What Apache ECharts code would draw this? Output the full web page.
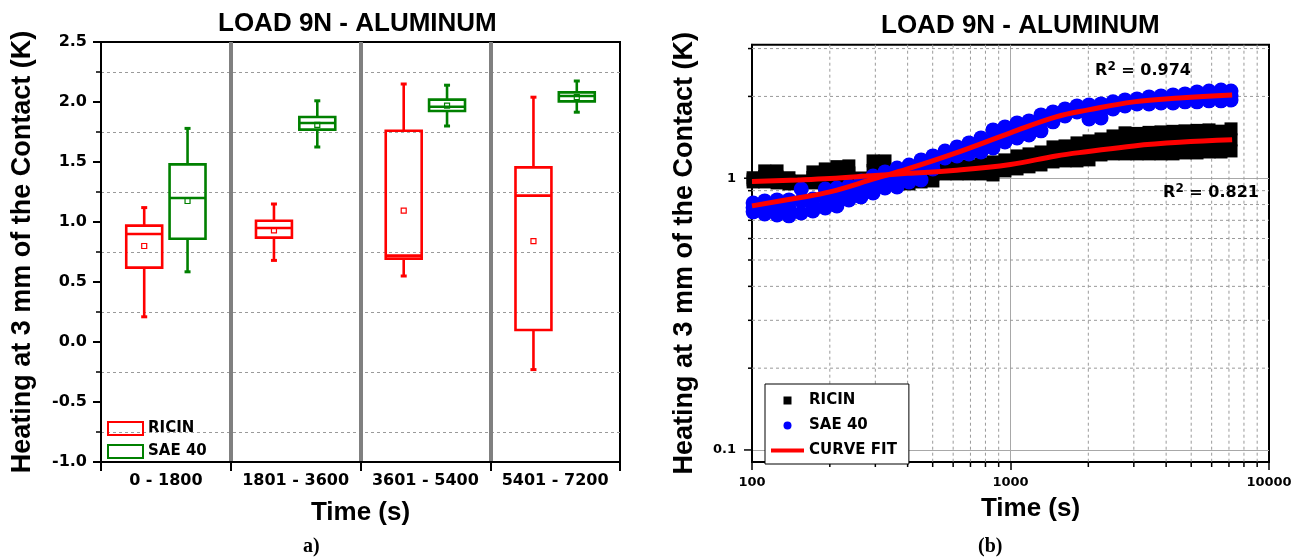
<!DOCTYPE html>
<html><head><meta charset="utf-8">
<script src="https://cdn.jsdelivr.net/npm/echarts@6/dist/echarts.min.js"></script>
<style>html,body{margin:0;padding:0;background:#fff}#c{width:1305px;height:558px}</style>
</head><body><div id="c"></div>
<script>
// ---------- panel a) : box plots ----------
const categories = ['0 - 1800', '1801 - 3600', '3601 - 5400', '5401 - 7200'];
// each row: [min, Q1, median, Q3, max, mean]
const ricinBox = [
  [0.21, 0.62, 0.90, 0.97, 1.12, 0.80],
  [0.68, 0.87, 0.95, 1.01, 1.15, 0.93],
  [0.55, 0.695, 0.72, 1.76, 2.15, 1.095],
  [-0.23, 0.10, 1.22, 1.455, 2.04, 0.84]
];
const saeBox = [
  [0.585, 0.86, 1.20, 1.48, 1.78, 1.175],
  [1.625, 1.77, 1.825, 1.875, 2.01, 1.81],
  [1.80, 1.925, 1.96, 2.02, 2.14, 1.97],
  [1.915, 2.005, 2.05, 2.08, 2.175, 2.04]
];

// ---------- panel (b) : log-log scatter ----------
const sampleTimes = [101,112,125,139,155,172,192,213,237,264,294,327,364,405,451,501,558,621,691,769,856,952,1060,1179,1312,1460,1625,1808,2012,2239,2492,2773,3086,3434,3821,4252,4732,5267,5861,6521,7130];
const ricinUpper = [1.004,1.064,1.064,1.004,0.977,1.055,1.082,1.103,1.110,1.002,1.158,1.158,1.055,1.082,1.082,1.091,1.101,1.110,1.110,1.129,1.148,1.168,1.208,1.229,1.249,1.304,1.315,1.349,1.372,1.395,1.431,1.469,1.462,1.475,1.481,1.488,1.494,1.500,1.506,1.490,1.519];
const ricinMid   = [0.987,1.015,1.011,0.979,0.965,1.007,1.024,1.038,1.046,0.994,1.068,1.068,1.015,1.015,1.024,1.033,1.068,1.073,1.073,1.082,1.086,1.115,1.143,1.163,1.183,1.223,1.234,1.249,1.265,1.304,1.326,1.343,1.343,1.343,1.349,1.349,1.360,1.360,1.372,1.372,1.384];
const ricinLower = [0.969,0.969,0.961,0.953,0.953,0.961,0.969,0.977,0.986,0.986,0.986,0.986,0.977,0.953,0.969,0.977,1.037,1.037,1.037,1.037,1.028,1.064,1.082,1.101,1.119,1.148,1.158,1.158,1.168,1.218,1.229,1.229,1.229,1.229,1.229,1.229,1.239,1.239,1.249,1.249,1.260];
const saeUpper = [0.811,0.825,0.832,0.832,0.913,0.839,0.913,0.921,0.937,0.977,1.019,1.055,1.091,1.119,1.168,1.208,1.260,1.304,1.349,1.407,1.506,1.545,1.598,1.625,1.710,1.754,1.799,1.846,1.861,1.877,1.910,1.942,1.958,1.992,2.009,2.026,2.043,2.078,2.095,2.113,2.095];
const saeMid   = [0.781,0.781,0.781,0.777,0.825,0.797,0.843,0.854,0.883,0.913,0.949,0.986,1.007,1.042,1.073,1.143,1.223,1.254,1.287,1.326,1.395,1.449,1.500,1.532,1.598,1.682,1.747,1.799,1.754,1.769,1.853,1.893,1.918,1.934,1.950,1.958,1.975,1.992,2.009,2.017,2.017];
const saeLower = [0.752,0.739,0.733,0.727,0.745,0.758,0.777,0.791,0.832,0.854,0.883,0.921,0.929,0.969,0.986,1.082,1.188,1.208,1.229,1.249,1.293,1.360,1.407,1.443,1.494,1.612,1.696,1.754,1.653,1.667,1.799,1.846,1.877,1.877,1.893,1.893,1.910,1.910,1.926,1.926,1.942];
const fitTimes = [100,150,200,300,400,600,1000,1500,2000,3000,4500,7200];
const ricinFit = [0.973,0.986,0.998,1.024,1.042,1.068,1.124,1.208,1.254,1.315,1.355,1.384];
const saeFit   = [0.791,0.846,0.891,0.998,1.082,1.229,1.469,1.682,1.784,1.910,1.975,2.026];
const xMinorTicks = [200,300,400,500,600,700,800,900,2000,3000,4000,5000,6000,7000,8000,9000];
const yMinorTicks = [0.2,0.3,0.4,0.5,0.6,0.7,0.8,0.9,2,3];
const yMajorTicks = [0.1, 1];
const r2Labels = [{text: '0.974', t: 3255, v: 2.483}, {text: '0.821', t: 5965, v: 0.883}];

// ---------- helpers ----------
const FD = 'DejaVu Sans';
const FL = 'Liberation Sans';
const pairs = (xs, ys) => xs.map((x, i) => [x, ys[i]]);

function boxRenderer(offset, color) {
  return function (params, api) {
    const cat = api.value(0);
    const band = api.size([1, 0])[0];
    const cx = api.coord([cat, 0])[0] + offset * band;
    const w = band * 0.277;
    const Y = (k) => api.coord([cat, api.value(k)])[1];
    const yMin = Y(1), yQ1 = Y(2), yMed = Y(3), yQ3 = Y(4), yMax = Y(5), yMean = Y(6);
    const st = {stroke: color, lineWidth: 2.6, fill: 'none'};
    const cap = {stroke: color, lineWidth: 3, fill: 'none'};
    return {type: 'group', children: [
      {type: 'line', shape: {x1: cx, y1: yQ3, x2: cx, y2: yMax}, style: st},
      {type: 'line', shape: {x1: cx, y1: yQ1, x2: cx, y2: yMin}, style: st},
      {type: 'line', shape: {x1: cx - 3, y1: yMax, x2: cx + 3, y2: yMax}, style: cap},
      {type: 'line', shape: {x1: cx - 3, y1: yMin, x2: cx + 3, y2: yMin}, style: cap},
      {type: 'rect', shape: {x: cx - w / 2, y: yQ3, width: w, height: yQ1 - yQ3}, style: st},
      {type: 'line', shape: {x1: cx - w / 2, y1: yMed, x2: cx + w / 2, y2: yMed}, style: st},
      {type: 'rect', shape: {x: cx - 2.5, y: yMean - 2.5, width: 5, height: 5}, style: {stroke: color, lineWidth: 1.2, fill: 'none'}}
    ]};
  };
}

const chart = echarts.init(document.getElementById('c'), null, {renderer: 'canvas', width: 1305, height: 558});

const r2Rich = {
  r: {fontFamily: FD, fontWeight: 'bold', fontSize: 16, color: '#000', lineHeight: 20},
  s: {fontFamily: FD, fontWeight: 'bold', fontSize: 12, color: '#000', verticalAlign: 'top', lineHeight: 20}
};

const option = {
  animation: false,
  backgroundColor: '#fff',
  title: [
    {text: 'LOAD 9N - ALUMINUM', left: 218, top: 11, padding: 0, textStyle: {fontFamily: FL, fontWeight: 'bold', fontSize: 26, color: '#000'}},
    {text: 'LOAD 9N - ALUMINUM', left: 881, top: 13, padding: 0, textStyle: {fontFamily: FL, fontWeight: 'bold', fontSize: 26, color: '#000'}},
    {text: 'a)', left: 303, top: 537, padding: 0, textStyle: {fontFamily: 'Liberation Serif', fontWeight: 'bold', fontSize: 20, color: '#000'}},
    {text: '(b)', left: 978, top: 537, padding: 0, textStyle: {fontFamily: 'Liberation Serif', fontWeight: 'bold', fontSize: 20, color: '#000'}}
  ],
  legend: [
    {
      left: 107, top: 421, orient: 'vertical', padding: 0, itemWidth: 35, itemHeight: 13, itemGap: 8,
      selectedMode: false,
      textStyle: {fontFamily: FD, fontWeight: 'bold', fontSize: 15, color: '#000'},
      data: [
        {name: 'RICIN', icon: 'rect', itemStyle: {color: 'rgba(0,0,0,0)', borderColor: '#ff0000', borderWidth: 2}},
        {name: 'SAE 40', icon: 'rect', itemStyle: {color: 'rgba(0,0,0,0)', borderColor: '#008000', borderWidth: 2}}
      ]
    },
    {
      left: 765, top: 384, orient: 'vertical', padding: [9, 12, 6, 6], itemWidth: 33, itemHeight: 12, itemGap: 10,
      selectedMode: false, borderColor: '#000', borderWidth: 1, backgroundColor: '#fff',
      textStyle: {fontFamily: FD, fontWeight: 'bold', fontSize: 15, color: '#000'},
      data: [
        {name: 'RICIN', icon: 'path://M0,0M33,12M12.5,2h8v8h-8z', itemStyle: {color: '#000', borderWidth: 0, opacity: 1}},
        {name: 'SAE 40', icon: 'path://M0,0M33,12M16.5,2a4,4 0 1,1 0,8a4,4 0 1,1 0,-8z', itemStyle: {color: '#0000ff', borderWidth: 0, opacity: 1}},
        {name: 'CURVE FIT', icon: 'path://M0,0M33,12M0,4h33v4h-33z', itemStyle: {color: '#ff0000', borderWidth: 0, opacity: 1}}
      ]
    }
  ],
  grid: [
    {left: 101, top: 42, width: 519, height: 420, outerBoundsMode: 'none', containLabel: false, show: true, borderColor: '#000', borderWidth: 2, backgroundColor: 'rgba(0,0,0,0)'},
    {left: 752, top: 44.7, width: 517, height: 417.3, outerBoundsMode: 'none', containLabel: false, show: true, borderColor: '#000', borderWidth: 2, backgroundColor: 'rgba(0,0,0,0)'}
  ],
  xAxis: [
    {
      gridIndex: 0, type: 'category', data: categories, boundaryGap: true,
      name: 'Time (s)', nameLocation: 'middle', nameGap: 38,
      nameTextStyle: {fontFamily: FL, fontWeight: 'bold', fontSize: 26, color: '#000'},
      axisLine: {onZero: false, lineStyle: {color: '#000', width: 2}},
      axisTick: {show: true, interval: 0, length: 9, lineStyle: {color: '#000', width: 2}},
      axisLabel: {interval: 0, margin: 11, fontFamily: FD, fontWeight: 'bold', fontSize: 16, color: '#000'},
      splitLine: {show: true, interval: 0, showMinLine: false, showMaxLine: false, lineStyle: {color: '#808080', width: 4}}
    },
    {
      gridIndex: 1, type: 'log', logBase: 10, min: 100, max: 10000,
      name: 'Time (s)', nameLocation: 'middle', nameGap: 34,
      nameTextStyle: {fontFamily: FL, fontWeight: 'bold', fontSize: 26, color: '#000', padding: [0, 0, 0, 40]},
      axisLine: {onZero: false, lineStyle: {color: '#000', width: 2}},
      axisTick: {show: true, length: 8, lineStyle: {color: '#000', width: 1.5}},
      axisLabel: {margin: 14, fontFamily: FD, fontWeight: 'bold', fontSize: 13, color: '#000', formatter: v => String(Math.round(v))},
      splitLine: {show: true, showMinLine: false, showMaxLine: false, lineStyle: {color: '#a8a8a8', width: 1}},
      minorTick: {show: false}
    }
  ],
  yAxis: [
    {
      gridIndex: 0, type: 'value', min: -1, max: 2.5, interval: 0.5,
      name: 'Heating at 3 mm of the Contact (K)', nameLocation: 'middle', nameGap: 65,
      nameTextStyle: {fontFamily: FL, fontWeight: 'bold', fontSize: 27, color: '#000'},
      axisLine: {show: true, onZero: false, lineStyle: {color: '#000', width: 2}},
      axisTick: {show: true, length: 8, lineStyle: {color: '#000', width: 2}},
      minorTick: {show: true, splitNumber: 2, length: 5, lineStyle: {color: '#000', width: 1.5}},
      axisLabel: {margin: 14, fontFamily: FD, fontWeight: 'bold', fontSize: 16, color: '#000', formatter: v => v.toFixed(1)},
      splitLine: {show: false},
      minorSplitLine: {show: true, lineStyle: {color: '#9a9a9a', width: 1, type: [3, 3]}}
    },
    {
      gridIndex: 1, type: 'log', logBase: 10, min: 0.0903, max: 3.10,
      name: 'Heating at 3 mm of the Contact (K)', nameLocation: 'middle', nameGap: 54,
      nameTextStyle: {fontFamily: FL, fontWeight: 'bold', fontSize: 27, color: '#000'},
      axisLine: {show: true, onZero: false, lineStyle: {color: '#000', width: 2}},
      axisTick: {show: false},
      minorTick: {show: false},
      axisLabel: {margin: 16, fontFamily: FD, fontWeight: 'bold', fontSize: 13, color: '#000',
        formatter: v => { const l = Math.log10(v); if (Math.abs(l + 1) < 1e-6) return '0.1'; if (Math.abs(l) < 1e-6) return '1'; return ''; }},
      splitLine: {show: true, showMinLine: false, showMaxLine: false, lineStyle: {color: '#a8a8a8', width: 1}}
    }
  ],
  series: [
    {
      name: 'RICIN', type: 'custom', xAxisIndex: 0, yAxisIndex: 0, z: 3,
      itemStyle: {color: '#ff0000'},
      encode: {x: 0, y: [1, 2, 3, 4, 5, 6]},
      data: ricinBox.map((r, i) => [i].concat(r)),
      renderItem: boxRenderer(-0.167, '#ff0000')
    },
    {
      name: 'SAE 40', type: 'custom', xAxisIndex: 0, yAxisIndex: 0, z: 3,
      itemStyle: {color: '#008000'},
      encode: {x: 0, y: [1, 2, 3, 4, 5, 6]},
      data: saeBox.map((r, i) => [i].concat(r)),
      renderItem: boxRenderer(0.167, '#008000')
    },
    {
      name: 'xMinorGrid', type: 'custom', xAxisIndex: 1, yAxisIndex: 1, z: 1, silent: true,
      data: xMinorTicks.map(v => [v, 1]),
      renderItem: function (params, api) {
        const cs = params.coordSys;
        const x = api.coord([api.value(0), 1])[0];
        return {type: 'group', children: [
          {type: 'line', shape: {x1: x, y1: cs.y, x2: x, y2: cs.y + cs.height}, style: {stroke: '#9a9a9a', lineWidth: 1, lineDash: [3, 3]}},
          {type: 'line', shape: {x1: x, y1: cs.y + cs.height, x2: x, y2: cs.y + cs.height + 5}, style: {stroke: '#000', lineWidth: 1.5}}
        ]};
      }
    },
    {
      name: 'yMinorGrid', type: 'custom', xAxisIndex: 1, yAxisIndex: 1, z: 1, silent: true,
      data: yMinorTicks.map(v => [1000, v, 0]).concat(yMajorTicks.map(v => [1000, v, 1])),
      renderItem: function (params, api) {
        const cs = params.coordSys;
        const y = api.coord([1000, api.value(1)])[1];
        const major = api.value(2) === 1;
        const kids = [{type: 'line', shape: {x1: cs.x - (major ? 8 : 4), y1: y, x2: cs.x, y2: y}, style: {stroke: '#000', lineWidth: 1.5}}];
        if (!major) kids.push({type: 'line', shape: {x1: cs.x, y1: y, x2: cs.x + cs.width, y2: y}, style: {stroke: '#9a9a9a', lineWidth: 1, lineDash: [3, 3]}});
        return {type: 'group', children: kids};
      }
    },
    {
      name: 'RICIN', type: 'scatter', xAxisIndex: 1, yAxisIndex: 1, z: 2,
      symbol: 'rect', symbolSize: 13, itemStyle: {color: '#000000', opacity: 1},
      data: pairs(sampleTimes, ricinUpper).concat(pairs(sampleTimes, ricinMid), pairs(sampleTimes, ricinLower))
    },
    {
      name: 'SAE 40', type: 'scatter', xAxisIndex: 1, yAxisIndex: 1, z: 3,
      symbol: 'circle', symbolSize: 15, itemStyle: {color: '#0000ff', opacity: 1},
      data: pairs(sampleTimes, saeUpper).concat(pairs(sampleTimes, saeMid), pairs(sampleTimes, saeLower))
    },
    {
      name: 'CURVE FIT', type: 'line', xAxisIndex: 1, yAxisIndex: 1, z: 4,
      symbol: 'none', smooth: 0.4, lineStyle: {color: '#ff0000', width: 5}, itemStyle: {color: '#ff0000'},
      data: pairs(fitTimes, ricinFit),
      markPoint: {
        symbol: 'circle', symbolSize: 1, itemStyle: {color: 'rgba(0,0,0,0)'},
        label: {show: true, position: 'inside', formatter: '{r|R}{s|2}{r| = ' + r2Labels[1].text + '}', rich: r2Rich},
        data: [{coord: [r2Labels[1].t, r2Labels[1].v]}]
      }
    },
    {
      name: 'CURVE FIT', type: 'line', xAxisIndex: 1, yAxisIndex: 1, z: 4,
      symbol: 'none', smooth: 0.4, lineStyle: {color: '#ff0000', width: 5}, itemStyle: {color: '#ff0000'},
      data: pairs(fitTimes, saeFit),
      markPoint: {
        symbol: 'circle', symbolSize: 1, itemStyle: {color: 'rgba(0,0,0,0)'},
        label: {show: true, position: 'inside', formatter: '{r|R}{s|2}{r| = ' + r2Labels[0].text + '}', rich: r2Rich},
        data: [{coord: [r2Labels[0].t, r2Labels[0].v]}]
      }
    }
  ]
};
chart.setOption(option);
</script></body></html>
